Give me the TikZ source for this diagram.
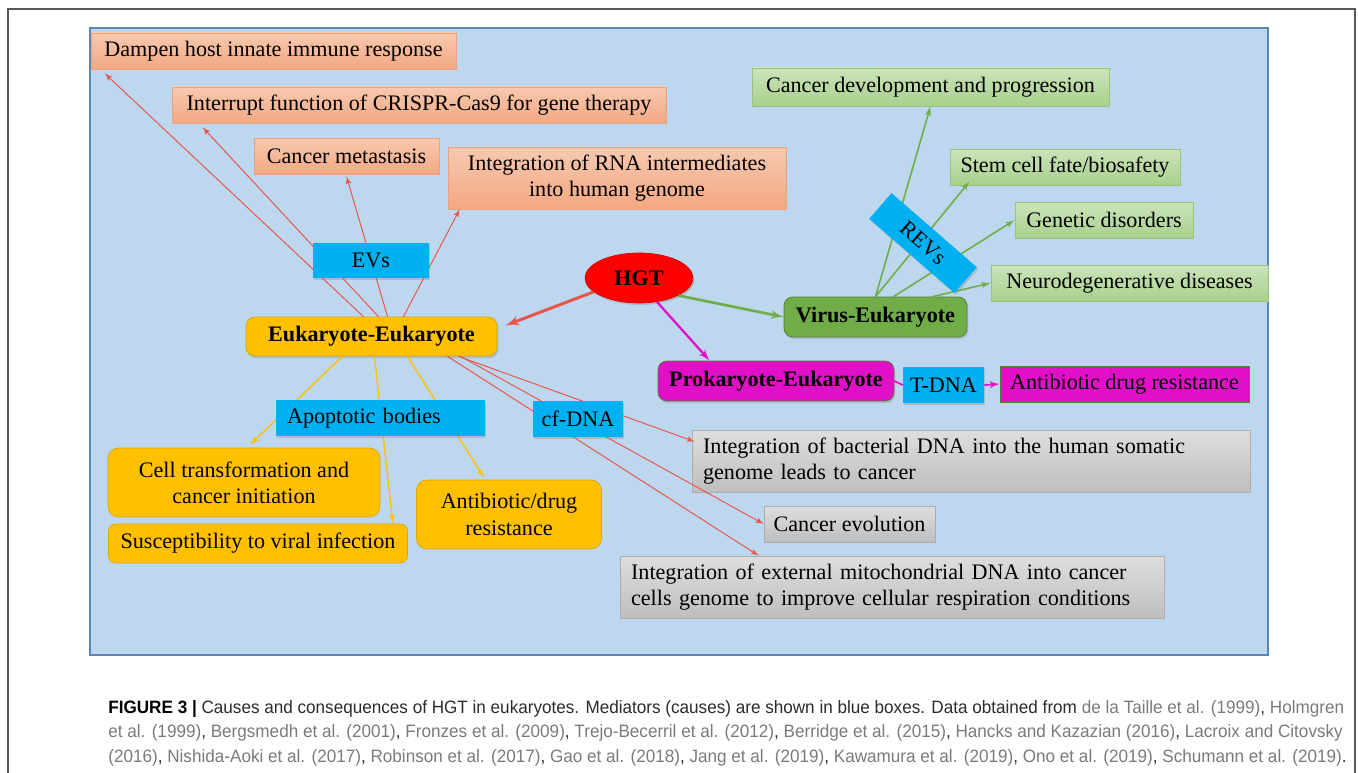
\documentclass[tikz,border=0pt]{standalone}
\usepackage{fontspec}
\setmainfont{Liberation Serif}
\newfontfamily\capfont[FakeStretch=0.955]{Liberation Sans}
\usepackage{tikz}
\usetikzlibrary{arrows,shapes.geometric,shadows,positioning}

\definecolor{panelblue}{HTML}{BDD7EE}
\definecolor{panelline}{HTML}{5B87B8}
\definecolor{peachtop}{HTML}{F8C9B0}
\definecolor{peachbot}{HTML}{F3A882}
\definecolor{peachline}{HTML}{F1A079}
\definecolor{greentop}{HTML}{CBE4BA}
\definecolor{greenbot}{HTML}{A8D08D}
\definecolor{greenline}{HTML}{96C47A}
\definecolor{causeblue}{HTML}{00B0F0}
\definecolor{amber}{HTML}{FFC000}
\definecolor{amberline}{HTML}{DDA600}
\definecolor{greytop}{HTML}{DEDEDE}
\definecolor{greybot}{HTML}{BEBEBE}
\definecolor{greyline}{HTML}{ADADAD}
\definecolor{magent}{HTML}{E20FC8}
\definecolor{virgreen}{HTML}{70AD47}
\definecolor{virline}{HTML}{507E32}
\definecolor{redline}{HTML}{E8554A}
\definecolor{captext}{HTML}{2B2B2B}
\definecolor{citegray}{HTML}{7A7A7A}

\newcommand{\boxfont}{\fontsize{12.6}{15}\selectfont}
\newcommand{\capref}[1]{\textcolor{citegray}{#1}}

\begin{document}
\begin{tikzpicture}[
    x=0.02cm, y=-0.02cm,
    >=latex',
    font=\boxfont,
    effect/.style={
        rectangle,
        draw=peachline,
        top color=peachtop, bottom color=peachbot,
        minimum height=0.72cm,
        inner sep=2pt
    },
    outcome/.style={
        rectangle,
        draw=greenline,
        top color=greentop, bottom color=greenbot,
        minimum height=0.72cm,
        inner sep=2pt
    },
    cause/.style={
        rectangle,
        fill=causeblue,
        minimum height=0.72cm,
        inner sep=2pt,
        drop shadow={shadow xshift=0.8pt, shadow yshift=-1.2pt, opacity=0.3}
    },
    route/.style={
        rectangle,
        rounded corners=6pt,
        draw=amberline,
        fill=amber,
        align=center,
        inner sep=2pt
    },
    genome/.style={
        rectangle,
        draw=greyline,
        top color=greytop, bottom color=greybot,
        minimum height=0.72cm,
        inner sep=2pt
    },
    group/.style={
        rectangle,
        rounded corners=5pt,
        font=\boxfont\bfseries,
        minimum height=0.8cm,
        drop shadow={shadow xshift=0.8pt, shadow yshift=-1.2pt, opacity=0.3}
    },
    captionline/.style={
        anchor=base west,
        inner sep=0pt,
        font=\capfont\fontsize{10.2}{12}\selectfont,
        text=captext
    },
    redlink/.style={draw=redline, line width=0.55pt},
    amberlink/.style={draw=amber, line width=0.8pt},
    greenlink/.style={draw=virgreen, line width=0.9pt}
  ]
  \useasboundingbox (0,0) rectangle (1358,773);

  % frame and panel
  \draw [gray!70!black, line width=0.7pt] (8,790) -- (8,9) -- (1355,9) -- (1355,790);
  \draw [panelline, fill=panelblue, line width=0.6pt] (90,28) rectangle (1268,655);

  % consequences
  \node [effect, minimum width=7.3cm] (dampen) at (273.5,51) {Dampen host innate immune response};
  \node [effect, minimum width=9.88cm] (crispr) at (419,105) {Interrupt function of CRISPR-Cas9 for gene therapy};
  \node [effect, minimum width=3.7cm] (metas) at (346.5,156) {Cancer metastasis};
  \node [effect, minimum width=6.76cm, minimum height=1.24cm, align=center] (rnaint) at (617,178)
    {Integration of RNA intermediates\\into human genome};

  \node [outcome, minimum width=7.14cm, minimum height=0.76cm] (cdp) at (930.5,87) {Cancer development and progression};
  \node [outcome, minimum width=4.6cm] (stem) at (1065,167) {Stem cell fate/biosafety};
  \node [outcome, minimum width=3.56cm] (genet) at (1104,220) {Genetic disorders};
  \node [outcome, minimum width=5.54cm] (neuro) at (1129.5,283) {Neurodegenerative diseases};

  \node [route, minimum width=5.44cm, minimum height=1.38cm] (celltr) at (244,482.5)
    {Cell transformation and\\cancer initiation};
  \node [route, rounded corners=4pt, minimum width=5.98cm, minimum height=0.78cm] (suscep) at (258,543.5)
    {Susceptibility to viral infection};
  \node [route, minimum width=3.7cm, minimum height=1.38cm] (abdrug) at (509,514.5)
    {Antibiotic/drug\\resistance};

  \node [genome, text width=10.72cm, align=left, minimum height=1.24cm, inner xsep=0.22cm] (bactdna) at (971,461)
    {Integration of bacterial DNA into the human somatic\\genome leads to cancer};
  \node [genome, minimum width=3.42cm] (canevo) at (849.5,524) {Cancer evolution};
  \node [genome, text width=10.44cm, align=left, minimum height=1.24cm, inner xsep=0.22cm] (mitodna) at (892,587)
    {Integration of external mitochondrial DNA into cancer\\cells genome to improve cellular respiration conditions};

  % the three routes
  \node [ellipse, fill=red, draw=red!85!black, minimum width=2.16cm, minimum height=1cm, inner sep=0pt,
    font=\boxfont\bfseries, drop shadow={shadow xshift=0.8pt, shadow yshift=-1.2pt, opacity=0.3}] (hgt) at (639,278) {HGT};
  \node [group, fill=amber, draw=amberline, minimum width=5.02cm, minimum height=0.78cm] (eukeuk) at (371.5,336.5) {Eukaryote-Eukaryote};
  \node [group, fill=virgreen, draw=virline, minimum width=3.66cm] (vireuk) at (875.5,317) {Virus-Eukaryote};
  \node [group, fill=magent, draw=virline, minimum width=4.72cm] (prokeuk) at (776,381) {Prokaryote-Eukaryote};
  \node [rectangle, fill=magent, draw=virline, minimum width=4.98cm, minimum height=0.72cm] (abres) at (1124.5,384)
    {Antibiotic drug resistance};

  % HGT to the routes
  \draw [->, draw=redline, line width=1.7pt] (hgt.197) -- ([xshift=0.16cm, yshift=0.22cm]eukeuk.east);
  \draw [->, draw=virgreen, line width=1.5pt] (hgt.336) -- (vireuk.west);
  \draw [->, draw=magent, line width=1.3pt] (hgt.307) -- ([xshift=1.04cm]prokeuk.north west);

  % eukaryote-eukaryote via EVs
  \draw [->, redlink] ([xshift=-0.16cm]eukeuk.north) -- ([xshift=0.28cm, yshift=-0.08cm]dampen.south west);
  \draw [->, redlink] ([xshift=0.14cm]eukeuk.north) -- ([xshift=0.62cm, yshift=-0.08cm]crispr.south west);
  \draw [->, redlink] ([xshift=0.32cm]eukeuk.north) -- ([yshift=-0.04cm]metas.south);
  \draw [->, redlink] ([xshift=0.64cm]eukeuk.north) -- ([xshift=0.24cm]rnaint.south west);

  % eukaryote-eukaryote via apoptotic bodies
  \draw [->, amberlink] ([xshift=-0.58cm]eukeuk.south) -- ([xshift=0.12cm, yshift=0.06cm]celltr.north);
  \draw [->, amberlink] ([xshift=0.06cm]eukeuk.south) -- ([xshift=-0.3cm]suscep.north east);
  \draw [->, amberlink] ([xshift=0.72cm]eukeuk.south) -- ([xshift=1.36cm, yshift=0.04cm]abdrug.north west);

  % eukaryote-eukaryote via cf-DNA
  \draw [->, redlink] ([xshift=1.74cm]eukeuk.south) -- ([xshift=0.06cm, yshift=-0.24cm]bactdna.north west);
  \draw [->, redlink] ([xshift=1.78cm]eukeuk.south) -- (canevo.west);
  \draw [->, redlink] ([xshift=1.52cm]eukeuk.south) -- ([xshift=2.78cm]mitodna.north west);

  % virus-eukaryote via REVs
  \draw [->, greenlink] (vireuk.north) -- (cdp.south);
  \draw [->, greenlink] (vireuk.north) -- ([xshift=0.4cm, yshift=0.08cm]stem.south west);
  \draw [->, greenlink] ([xshift=0.36cm]vireuk.north) -- (genet.west);
  \draw [->, greenlink] ([xshift=1.14cm]vireuk.north) -- (neuro.west);

  % mediators
  \node [cause, minimum width=2.32cm, minimum height=0.7cm] (evs) at (371,260.5) {EVs};
  \node [cause, text width=3.74cm, align=left, inner xsep=0.22cm] (apop) at (380.5,418) {Apoptotic bodies};
  \node [cause, minimum width=1.8cm] (cfdna) at (578,419) {cf-DNA};
  \node [cause, minimum width=2.26cm, minimum height=0.68cm, rotate=-41] (revs) at (923,243) {REVs};
  \node [cause, minimum width=1.62cm] (tdna) at (943.5,385) {T-DNA};

  \draw [draw=magent, line width=1pt] (prokeuk.east) -- (tdna.west);
  \draw [->, draw=magent, line width=1pt] (tdna.east) -- (abres.west);

  % caption
  \node [captionline] (capa) at (108,713)
    {\textbf{\textcolor{black}{FIGURE 3 |}} Causes and consequences of HGT in eukaryotes. Mediators (causes) are shown in blue boxes. Data obtained from \capref{de la Taille et al. (1999)}, \capref{Holmgren}};
  \node [captionline] (capb) at (108,737)
    {\capref{et al. (1999)}, \capref{Bergsmedh et al. (2001)}, \capref{Fronzes et al. (2009)}, \capref{Trejo-Becerril et al. (2012)}, \capref{Berridge et al. (2015)}, \capref{Hancks and Kazazian (2016)}, \capref{Lacroix and Citovsky}};
  \node [captionline] (capc) at (108,762)
    {\capref{(2016)}, \capref{Nishida-Aoki et al. (2017)}, \capref{Robinson et al. (2017)}, \capref{Gao et al. (2018)}, \capref{Jang et al. (2019)}, \capref{Kawamura et al. (2019)}, \capref{Ono et al. (2019)}, \capref{Schumann et al. (2019)}.};
\end{tikzpicture}
\end{document}
